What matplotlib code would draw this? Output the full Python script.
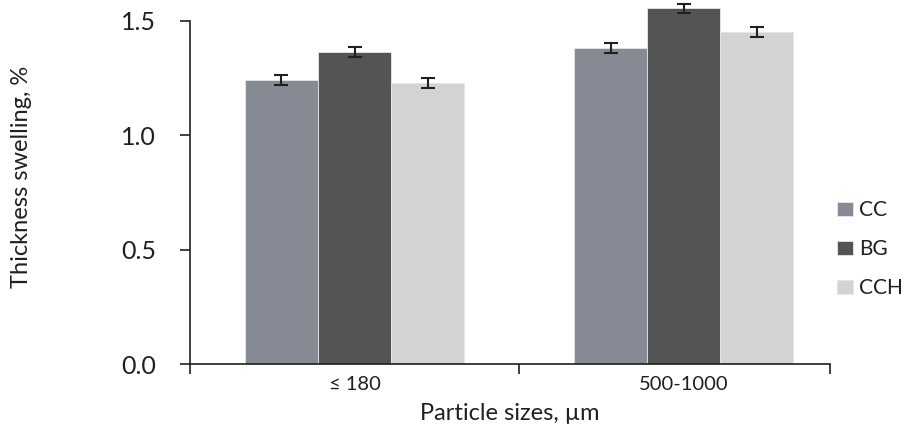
import numpy as np
import matplotlib.pyplot as plt

plt.rcParams['font.family'] = ['Lato', 'DejaVu Sans']

categories = ['\u2264 180', '500-1000']
series = ['CC', 'BG', 'CCH']
values = {
    'CC': [1.241, 1.381],
    'BG': [1.363, 1.555],
    'CCH': [1.228, 1.451],
}
errors = {
    'CC': [0.022, 0.021],
    'BG': [0.022, 0.021],
    'CCH': [0.022, 0.022],
}
colors = {'CC': '#858a95', 'BG': '#535456', 'CCH': '#d2d3d5'}
ink = '#231f20'

fig = plt.figure(figsize=(9.07, 4.37), dpi=100)
ax = fig.add_axes([190 / 907, 1 - 364 / 437, 640 / 907, 343 / 437])

x = np.arange(len(categories))
w = 0.222
for i, s in enumerate(series):
    pos = x + (i - 1) * w
    ax.bar(pos, values[s], width=w, color=colors[s], edgecolor='#e6e6e6',
           linewidth=0.6, label=s, clip_on=False, zorder=2)
    ax.errorbar(pos, values[s], yerr=errors[s], fmt='none', ecolor=ink,
                elinewidth=1.5, capsize=5, capthick=1.5, clip_on=False, zorder=3)

ax.set_xlim(-0.5, 1.445)
ax.set_ylim(0, 1.5)
ax.set_yticks([0, 0.5, 1.0, 1.5])
ax.set_yticklabels(['0.0', '0.5', '1.0', '1.5'], fontsize=18, color=ink)
ax.set_xticks([-0.5, 0.5, 1.445])
ax.set_xticklabels([])
ax.set_xticks(x, minor=True)
ax.set_xticklabels(categories, minor=True, fontsize=14.5, color=ink)
ax.tick_params(axis='x', which='major', direction='out', length=7.5, width=1.2, color=ink)
ax.tick_params(axis='x', which='minor', length=0, pad=9)
ax.tick_params(axis='y', direction='out', length=7.5, width=1.2, color=ink, pad=17)

for side in ['top', 'right']:
    ax.spines[side].set_visible(False)
for side in ['left', 'bottom']:
    ax.spines[side].set_linewidth(1.2)
    ax.spines[side].set_color(ink)

ax.set_xlabel('Particle sizes, \u00b5m', fontsize=17, color=ink, labelpad=7)
fig.text(22 / 907, 1 - 177 / 437, 'Thickness swelling, %', rotation=90,
         fontsize=17, color=ink, ha='center', va='center')

ax.legend(loc='upper left', bbox_to_anchor=(837 / 907, 1 - 200 / 437),
          bbox_transform=fig.transFigure, frameon=False, borderpad=0,
          borderaxespad=0, fontsize=15, handlelength=0.75, handleheight=0.65,
          handletextpad=0.3, labelspacing=0.92, labelcolor=ink)

fig.savefig('out.png', dpi=100)
